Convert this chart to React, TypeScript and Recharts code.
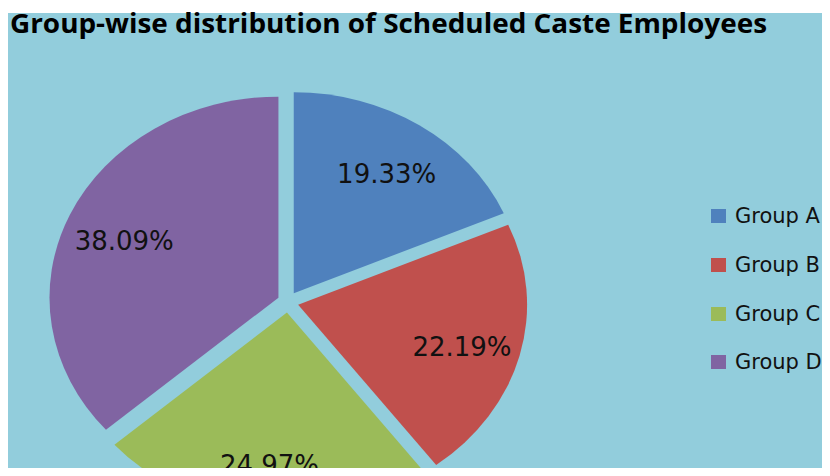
import React from "react";
import { PieChart, Pie, Cell, Sector, Legend } from "recharts";

const groups = ["Group A", "Group B", "Group C", "Group D"];
const shares = [19.33, 22.19, 24.97, 38.09];
const colors = ["#4F81BD", "#C0504D", "#9BBB59", "#8064A2"];
const title = "Group-wise distribution of Scheduled Caste Employees";

const data = groups.map((name, i) => ({ name, value: shares[i] }));

// the original picture is stretched sideways, so the pie is an ellipse
const SX = 1.139;
const GAP = 10.5;
const RAD = Math.PI / 180;

const offsetOf = (mid: number) => ({
  ox: GAP * Math.cos(-mid * RAD),
  oy: GAP * Math.sin(-mid * RAD),
});

function ExplodedSlice(props: any) {
  const { cx, cy, midAngle } = props;
  const { ox, oy } = offsetOf(midAngle);
  return (
    <g transform={`translate(${cx + ox},${cy + oy}) scale(${SX},1) translate(${-cx},${-cy})`}>
      <Sector {...props} stroke="none" />
    </g>
  );
}

function SliceLabel(props: any) {
  const { cx, cy, midAngle, outerRadius, value } = props;
  const { ox, oy } = offsetOf(midAngle);
  const r = outerRadius * 0.74;
  const x = cx + ox + SX * r * Math.cos(-midAngle * RAD);
  const y = cy + oy + r * Math.sin(-midAngle * RAD) + 5;
  return (
    <text x={x} y={y} textAnchor="middle" dominantBaseline="central"
      fontFamily="DejaVu Sans" fontSize={26} fill="#111">
      {Number(value).toFixed(2)}%
    </text>
  );
}

function LegendBox({ payload }: any) {
  return (
    <div>
      {(payload || []).map((p: any, i: number) => (
        <div key={i} style={{ height: 48.7, display: "flex", alignItems: "center" }}>
          <span style={{ display: "inline-block", width: 15, height: 14, background: p.color || colors[i], marginRight: 9 }} />
          <span style={{ fontFamily: "DejaVu Sans", fontSize: 21, color: "#111", whiteSpace: "nowrap" }}>{p.value}</span>
        </div>
      ))}
    </div>
  );
}

export default function App() {
  return (
    <div style={{ position: "relative", width: 830, height: 476, margin: -8, background: "#fff", overflow: "hidden" }}>
      <div style={{ position: "absolute", left: 7, top: 13, right: 0, bottom: 0, background: "#92CDDC" }} />
      <svg width={830} height={50} style={{ position: "absolute", left: 0, top: 0 }}>
        <text x={10} y={33} fontFamily="Open Sans" fontWeight={700} fontSize={26} fill="#000"
          textLength={757} lengthAdjust="spacingAndGlyphs">{title}</text>
      </svg>
      <div style={{ position: "absolute", left: 0, top: 0 }}>
        <PieChart width={830} height={476} margin={{ top: 0, right: 0, bottom: 0, left: 0 }}>
          <Pie data={data} dataKey="value" nameKey="name" cx={288} cy={302} outerRadius={201}
            startAngle={90} endAngle={-270} stroke="none" isAnimationActive={false}
            shape={ExplodedSlice} activeShape={ExplodedSlice} inactiveShape={ExplodedSlice}
            label={SliceLabel} labelLine={false}>
            {data.map((d, i) => <Cell key={d.name} fill={colors[i]} />)}
          </Pie>
          <Legend layout="vertical" align="right" verticalAlign="middle" content={<LegendBox />}
            wrapperStyle={{ left: 711, top: 192, right: "auto", width: 130 }} />
        </PieChart>
      </div>
    </div>
  );
}
